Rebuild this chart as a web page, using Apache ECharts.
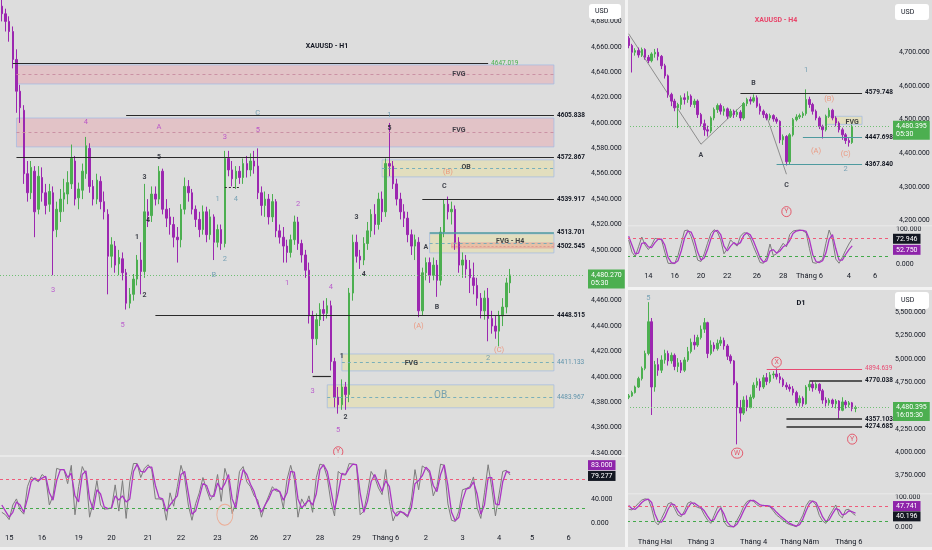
<!DOCTYPE html>
<html>
<head>
<meta charset="utf-8">
<script src="https://cdn.jsdelivr.net/npm/echarts@6.0.0/dist/echarts.min.js"></script>
<style>
html,body{margin:0;padding:0;background:#dddddd;overflow:hidden}
#chart{width:932px;height:550px}
</style>
</head>
<body>
<div id="chart"></div>
<script>
// ================= H1 DATA =================
// [open, close, low, high]
const h1Candles = [
[4692,4686,4680,4697],[4686,4680,4672,4690],[4680,4672,4664,4684],[4672,4650,4643,4676],[4650,4625,4608,4658],
[4625,4612,4600,4630],[4610,4560,4552,4614],[4560,4545,4538,4570],[4545,4565,4540,4570],[4562,4530,4510,4566],
[4532,4558,4528,4566],[4557,4545,4538,4565],[4545,4535,4528,4552],[4536,4546,4530,4552],[4545,4515,4480,4550],
[4516,4532,4510,4538],[4530,4540,4522,4548],[4540,4545,4530,4556],[4544,4553,4536,4562],[4552,4572,4548,4583],
[4570,4540,4535,4574],[4541,4548,4532,4553],[4547,4562,4540,4568],[4560,4582,4556,4589],[4580,4550,4545,4584],
[4550,4540,4535,4555],[4540,4555,4536,4560],[4554,4538,4532,4558],[4538,4530,4524,4546],[4528,4495,4465,4532],
[4495,4504,4486,4510],[4503,4488,4482,4507],[4489,4494,4480,4500],[4493,4482,4476,4498],[4482,4458,4453,4485],
[4458,4465,4454,4470],[4465,4477,4460,4481],[4477,4492,4472,4496],[4492,4483,4465,4506],[4483,4530,4478,4552],
[4530,4527,4518,4540],[4527,4544,4522,4550],[4544,4540,4535,4550],[4540,4562,4536,4566],[4562,4532,4528,4564],
[4532,4525,4518,4540],[4526,4520,4512,4533],[4520,4510,4502,4526],[4510,4508,4490,4518],[4508,4532,4502,4536],
[4532,4550,4528,4557],[4550,4545,4538,4555],[4545,4532,4528,4548],[4532,4524,4518,4535],[4524,4516,4510,4530],
[4516,4530,4512,4535],[4530,4512,4506,4534],[4512,4526,4508,4532],[4526,4506,4492,4528],[4506,4516,4502,4520],
[4516,4505,4500,4520],[4505,4572,4502,4578],[4572,4563,4558,4578],[4563,4556,4550,4570],[4556,4562,4548,4566],
[4562,4557,4552,4566],[4557,4568,4552,4572],[4568,4563,4557,4574],[4563,4570,4558,4576],[4570,4566,4560,4578],
[4566,4545,4540,4580],[4545,4535,4527,4550],[4535,4540,4526,4546],[4540,4526,4520,4544],[4526,4538,4522,4544],
[4538,4515,4510,4540],[4515,4510,4505,4520],[4510,4503,4490,4518],[4503,4498,4490,4508],[4498,4508,4494,4512],
[4508,4522,4504,4527],[4522,4505,4500,4526],[4505,4496,4490,4508],[4496,4484,4478,4500],[4484,4448,4442,4490],
[4448,4430,4403,4452],[4430,4445,4425,4450],[4445,4453,4440,4458],[4453,4450,4444,4460],[4450,4456,4446,4462],
[4456,4412,4405,4460],[4412,4384,4376,4415],[4384,4378,4371,4392],[4378,4392,4374,4398],[4392,4386,4374,4396],
[4386,4466,4380,4470],[4466,4506,4460,4512],[4506,4495,4490,4512],[4495,4492,4485,4500],[4492,4505,4488,4510],
[4505,4515,4500,4522],[4515,4528,4510,4532],[4528,4520,4512,4536],[4520,4540,4516,4545],[4540,4530,4522,4546],
[4530,4568,4526,4572],[4568,4566,4558,4600],[4566,4552,4548,4570],[4552,4540,4535,4556],[4540,4530,4524,4545],
[4530,4525,4518,4536],[4525,4512,4506,4530],[4512,4503,4496,4516],[4503,4508,4492,4512],[4506,4452,4447,4510],
[4452,4482,4448,4486],[4482,4490,4476,4494],[4490,4480,4474,4494],[4480,4488,4476,4494],[4488,4476,4463,4492],
[4476,4514,4472,4518],[4514,4536,4510,4540],[4536,4530,4524,4542],[4530,4532,4520,4538],[4532,4506,4500,4535],
[4506,4488,4482,4510],[4488,4492,4478,4498],[4492,4485,4478,4496],[4485,4478,4466,4492],[4478,4472,4465,4490],
[4472,4462,4456,4478],[4462,4452,4446,4466],[4452,4462,4445,4468],[4462,4446,4428,4470],[4446,4440,4434,4452],
[4440,4436,4430,4448],[4436,4448,4424,4452],[4448,4455,4440,4462],[4455,4474,4450,4478],[4474,4480.27,4466,4485]
];
const h1OscK = [18,14,6,30,40,22,15,60,76,72, 68,80,75,30,45,90,88,88,65,95, 14,60,93,80,10,35,70,30,23,24,
25,63,20,70,8,68,98,98,75,90, 96,88,40,40,38,5,50,28,60,95, 75,30,5,32,50,75,55,38,48,80,
36,90,70,16,35,85,93,68,60,45, 38,10,30,45,60,53,52,25,72,95, 72,10,40,28,45,18,75,97,95,75,
35,12,85,80,79,98,97,96,14,20, 50,85,75,58,47,88,36,4,18,20, 15,10,38,88,55,94,90,82,45,60,
97,95,32,5,3,20,55,57,60,76, 25,8,50,96,58,12,48,85,87,79.277];
const h1OscD = [30,20,10,18,35,30,18,40,68,74, 70,74,77,50,38,70,88,88,75,82, 45,35,80,86,40,22,55,48,27,24,
25,45,38,45,35,40,85,97,85,84, 92,92,62,42,40,20,30,38,45,80, 85,50,15,20,42,65,62,45,44,66,
55,65,80,40,25,62,88,80,64,52, 32,18,30,40,54,56,52,38,50,85, 84,40,25,32,38,30,48,88,96,85,
55,22,50,82,80,90,97,96,50,18, 36,68,80,66,52,70,60,20,12,19, 17,12,25,65,70,78,92,86,62,52,
80,96,62,18,4,10,38,56,58,68, 48,15,30,75,75,32,30,68,85,83];
const h1TickIdx = [2,11,21,30,40,49,59,69,78,87,97,105,116,126,136,145,155];
const h1TickText = ['15','16','19','20','21','22','23','26','27','28','29','Tháng 6','2','3','4','5','6'];
const h1OscLevels = [73,24];
// [fromIndex, toIndex, price]
const h1LevelsBlack = [[34,151,4605.838],[4,151,4572.867],[115,151,4539.917],[42,151,4448.515]];
const h1LevelGreen = [[3,133,4647.019]];
const h1LevelTeal = [[117,151,4513.701]];
// [fromIndex, toIndex, lowPrice, highPrice]
const h1PinkZones = [[4,151,4630.7,4645.7],[4,151,4581.1,4603.9]];
const h1YellowZones = [[104,151,4557.5,4570.9],[117,151,4497.6,4512.6],[93,151,4404.7,4418.0],[89,151,4375.6,4393.7]];
const h1SubZones = [[123,151,4501.5,4505.5]];
const h1MidPink = [[4,151,4638.2],[4,151,4592.5]];
const h1MidYellow = [[104,151,4564.2],[117,151,4505.1]];
const h1MidTealLabeled = [[93,151,4411.133,'4411.133'],[89,151,4383.967,'4483.967']];
const h1MidSubLabeled = [[123,151,4502.545,'4502.545']];
const h1ShortSolid = [[85,90,4400.8]];
const h1ShortDashed = [[61,65,4549.0]];
// [index, price, text]
const h1TxtBlack = [[43,4573,'5'],[39,4557,'3'],[40,4523,'4'],[37,4510,'1'],[39,4464,'2'],[106,4596,'5'],
  [97,4526,'3'],[99,4481,'4'],[121,4550,'C'],[116,4502,'A'],[119,4455,'B'],[93,4416,'1'],[94,4368,'2'],
  [125,4638,'FVG'],[125,4594,'FVG'],[127,4565,'OB'],[139,4507,'FVG - H4'],[112,4411,'FVG']];
const h1TxtPink = [[23,4601,'4'],[43,4597,'A'],[61,4589,'3'],[70,4594,'5'],[14,4468,'3'],[33,4441,'5'],
  [81,4536,'2'],[78,4474,'1'],[90,4471,'4'],[85,4389,'3'],[92,4358,'5']];
const h1TxtTeal = [[70,4608,'C'],[106,4606,'1'],[59,4540,'1'],[64,4540,'4'],[61,4493,'2'],[58,4480,'B'],[133,4415,'2']];
const h1TxtTealBig = [[120,4385,'OB']];
const h1TxtOrange = [[122,4561,'(B)'],[114,4440,'(A)'],[136,4421,'(C)']];
const h1TxtCircle = [[92,4341,'Y']];
const h1OscMark = [[61,14]];

// ================= H4 DATA =================
const h4Candles = [
[4742,4720,4712,4748],[4720,4700,4640,4725],[4700,4705,4690,4712],[4705,4692,4684,4714],[4692,4708,4686,4714],
[4708,4685,4678,4712],[4685,4675,4668,4692],[4675,4695,4670,4700],[4695,4700,4684,4710],[4700,4688,4676,4712],
[4688,4660,4650,4692],[4660,4630,4622,4666],[4630,4575,4565,4634],[4575,4555,4540,4580],[4555,4535,4525,4562],
[4535,4545,4475,4550],[4545,4565,4530,4572],[4565,4560,4545,4578],[4560,4570,4550,4584],[4570,4545,4538,4575],
[4545,4555,4535,4562],[4555,4515,4505,4560],[4515,4488,4480,4520],[4488,4470,4452,4500],[4470,4466,4450,4482],
[4466,4505,4460,4510],[4505,4530,4498,4536],[4530,4542,4520,4548],[4542,4525,4515,4548],[4525,4532,4512,4540],
[4532,4510,4502,4536],[4510,4525,4505,4532],[4525,4515,4505,4530],[4515,4522,4508,4530],[4522,4505,4496,4528],
[4505,4548,4500,4552],[4548,4560,4540,4565],[4560,4555,4545,4568],[4555,4565,4550,4575],[4565,4540,4535,4572],
[4540,4525,4515,4548],[4525,4515,4505,4530],[4515,4505,4498,4520],[4505,4512,4498,4518],[4512,4502,4494,4516],
[4502,4495,4488,4508],[4495,4440,4430,4498],[4440,4450,4425,4456],[4450,4375,4364,4454],[4375,4455,4368,4460],
[4455,4500,4450,4505],[4500,4508,4495,4516],[4508,4512,4502,4518],[4512,4518,4505,4524],[4518,4560,4512,4590],
[4560,4545,4535,4568],[4545,4525,4515,4550],[4525,4505,4498,4530],[4505,4480,4472,4510],[4480,4470,4444,4485],
[4470,4510,4465,4515],[4510,4528,4505,4535],[4528,4505,4498,4532],[4505,4490,4480,4510],[4490,4470,4462,4495],
[4470,4455,4440,4476],[4455,4438,4428,4460],[4438,4432,4420,4445],[4432,4480.395,4428,4485]
];
const h4OscK = [70,35,22,50,78,55,42,55,74,72, 70,35,3,2,2,25,60,96,98,80, 50,12,8,30,60,88,99,92,70,30,
45,70,60,52,80,90,89,75,50,28, 5,3,20,58,25,30,45,60,50,85, 95,97,98,96,90,45,5,3,8,14,
60,98,72,15,3,20,40,58,72.946];
const h4OscD = [80,55,30,32,60,62,50,48,62,72, 72,55,20,5,3,10,38,75,95,92, 70,35,12,18,42,72,94,97,85,52,
38,52,62,56,62,82,90,84,66,42, 18,6,10,38,42,32,38,50,55,68, 88,95,97,97,94,70,28,8,5,10,
32,72,85,45,12,12,28,42,52.75];
const h4TickIdx = [6,14,22,30,39,47,55,67,75];
const h4TickText = ['14','16','20','22','26','28','Tháng 6','4','6'];
const h4OscLevels = [74,24];
const h4LevelsBlack = [[34,71,4579.748]];
const h4LevelsTeal = [[53,71,4447.698],[45,71,4367.840]];
const h4YellowZones = [[60,71,4486,4510]];
const h4Zigzag1 = [[0,4755],[22,4427],[35,4548]];
const h4Zigzag2 = [[42,4510],[48,4338]];
const h4TxtBlack = [[22,4394,'A'],[38,4608,'B'],[48,4305,'C'],[68,4492,'FVG']];
const h4TxtTeal = [[54,4646,'1'],[66,4352,'2']];
const h4TxtOrange = [[61,4560,'(B)'],[57,4406,'(A)'],[66,4397,'(C)']];
const h4TxtCircle = [[48,4227,'Y']];

// ================= D1 DATA =================
const d1Candles = [
[4590,4605,4570,4625],[4605,4640,4595,4660],[4640,4700,4630,4715],[4700,4790,4690,4810],[4790,4900,4770,4920],
[4900,5060,4880,5090],[5060,5400,5040,5610],[5400,4700,4400,5440],[4700,4940,4650,4980],[4940,4880,4820,5010],
[4880,4990,4850,5040],[4990,5060,4950,5100],[5060,4980,4930,5090],[4980,5040,4950,5070],[5040,4920,4880,5060],
[4920,4960,4860,5010],[4960,4880,4850,4990],[4880,4990,4860,5020],[4990,5080,4970,5130],[5080,5180,5060,5220],
[5180,5150,5100,5260],[5150,5230,5130,5260],[5230,5320,5210,5360],[5320,5390,5280,5440],[5390,5060,5010,5400],
[5060,5150,5040,5200],[5150,5110,5080,5180],[5110,5170,5090,5210],[5170,5200,5140,5240],[5200,5140,5100,5230],
[5140,5030,4990,5160],[5030,4980,4950,5050],[4980,4740,4720,4990],[4740,4480,4085,4760],[4480,4420,4330,4560],
[4420,4560,4400,4600],[4560,4480,4440,4610],[4480,4590,4470,4620],[4590,4720,4570,4750],[4720,4760,4690,4800],
[4760,4700,4660,4790],[4700,4800,4680,4830],[4800,4760,4720,4850],[4760,4830,4740,4860],[4830,4840,4790,4870],
[4840,4810,4780,4900],[4810,4780,4740,4850],[4780,4720,4700,4800],[4720,4700,4670,4750],[4700,4680,4650,4730],
[4680,4640,4610,4710],[4640,4530,4500,4660],[4530,4580,4490,4610],[4580,4520,4490,4600],[4520,4700,4510,4720],
[4700,4730,4660,4760],[4730,4690,4650,4760],[4690,4730,4670,4750],[4730,4660,4630,4740],[4660,4560,4520,4680],
[4560,4530,4490,4590],[4530,4560,4500,4580],[4560,4520,4480,4575],[4520,4550,4470,4570],[4550,4450,4360,4560],
[4450,4540,4440,4590],[4540,4510,4470,4560],[4510,4530,4480,4550],[4530,4470,4440,4540],[4470,4480.395,4430,4500]
];
const d1OscK = [60,58,68,80,90,94,92,63,20,9, 30,52,78,82,62,41,36,55,80,85, 72,66,63,42,25,14,40,66,70,20,
5,3,3,25,45,70,85,90,86,75, 68,73,71,68,55,41,33,24,15,10, 7,3,20,41,72,88,86,74,40,22,
14,38,56,74,42,32,58,60,48,40.196];
const d1OscD = [72,62,60,70,82,90,93,82,45,20, 18,35,60,78,74,55,42,45,65,80, 80,72,66,55,38,22,26,48,64,45,
18,6,3,12,32,55,76,88,89,82, 74,72,72,70,62,50,40,31,22,14, 9,5,10,28,55,78,87,82,60,35,
20,26,45,62,58,42,45,55,52,47.741];
const d1TickIdx = [8,22,38,52,67];
const d1TickText = ['Tháng Hai','Tháng 3','Tháng 4','Tháng Năm','Tháng 6'];
const d1OscLevels = [70,22];
const d1LevelPink = [[42,71,4894.639]];
const d1LevelsBlack = [[55,71,4770.038],[48,71,4357.103],[48,71,4274.685]];
const d1TxtTeal = [[6,5652,'5']];
const d1TxtCircle = [[33,3991,'W'],[45,4966,'X'],[68,4141,'Y']];

const priceTimers = ['05:30','05:30','16:05:30'];

// ================= BUILD =================
const FONT = 'Roboto';
const TXT = '#131722';
const UP = '#4caf50', DOWN = '#9c27b0';
const TEAL = '#5f93ab', PINK = '#b03cc8', ORANGE = '#ef8a6c', CIRC = '#e53950';
const CLEAR = 'rgba(0,0,0,0)';

function fmt(v){ return Number(v).toLocaleString('en-US',{minimumFractionDigits:3,maximumFractionDigits:3}); }

function catAxis(grid, n, ticks, texts, show, margin){
  const map = {}; ticks.forEach((t,k)=>{ map[String(t)] = texts[k]; });
  const cats = []; for (let i=0;i<n;i++) cats.push(String(i));
  return {type:'category', gridIndex:grid, data:cats, boundaryGap:true,
    axisLine:{show:false}, axisTick:{show:false}, splitLine:{show:false}, axisPointer:{show:false},
    axisLabel:{show:show, interval:0, margin:margin||8, formatter:(v)=>map[v]||'', color:TXT, fontSize:7.5, fontFamily:FONT}};
}
function valAxis(grid, min, max, interval, showFn, margin){
  return {type:'value', gridIndex:grid, position:'right', min:min, max:max, interval:interval, scale:false,
    axisLine:{show:false}, axisTick:{show:false}, splitLine:{show:false},
    axisLabel:{show:true, margin:margin, formatter:(v)=>showFn(v)?fmt(v):'', color:TXT, fontSize:7, fontFamily:FONT}};
}
function segs(arr, lineStyle, label){
  return arr.map(r=>[{coord:[r[0], r[2]], name:(r[3]!==undefined? r[3] : r[2].toFixed(3)), lineStyle:lineStyle, label:label},{coord:[r[1], r[2]]}]);
}
function zones(arr, itemStyle){
  return arr.map(r=>[{coord:[r[0], r[2]], itemStyle:itemStyle},{coord:[r[1], r[3]]}]);
}
function lastLine(price, timer){
  return {yAxis:price, name:'', lineStyle:{type:[1,2], color:'#6fbf73', width:1},
    label:{show:true, position:'end', distance:3, formatter:fmt(price)+'\n'+timer, backgroundColor:'#4caf50',
      color:'#ffffff', padding:[2,3,1,3], lineHeight:8, fontSize:7, fontWeight:'normal', fontFamily:FONT, offset:[0,4]}};
}
function tag(v, bg, dy){
  return {yAxis:v, name:'', lineStyle:{color:CLEAR, width:1, type:'solid'}, label:{show:true, position:'end', distance:3, formatter:fmt(v),
    backgroundColor:bg, color:'#ffffff', padding:[2,3,1,3], fontSize:7, fontWeight:'normal', fontFamily:FONT, offset:[0,dy]}};
}
function oscRef(levels){
  return [{yAxis:levels[0], name:'', lineStyle:{type:[3,3], color:'#ef5b7a', width:1}},
          {yAxis:levels[1], name:'', lineStyle:{type:[3,3], color:'#43a94a', width:1}}];
}
function texts(data, ax, color, size, weight, extra){
  return {type:'scatter', xAxisIndex:ax, yAxisIndex:ax, data:data, symbolSize:1, silent:true, clip:false, z:6,
    itemStyle:{color:CLEAR}, animation:false,
    label:Object.assign({show:true, position:'inside', formatter:(p)=>p.data[2], color:color, fontSize:size,
      fontWeight:weight||'normal', fontFamily:FONT}, extra||{})};
}
const circleStyle = {borderColor:CIRC, borderWidth:1, borderRadius:8, padding:[2,2.5,1,2.5]};
const baseLabel = {show:false, position:'end', distance:3, formatter:'{b}', fontFamily:FONT, fontSize:6.5, fontWeight:'bold', color:TXT};
const blackLbl = {show:true, color:TXT, fontWeight:'bold'};
const pinkZoneStyle = {color:'rgba(240,135,150,0.30)', borderColor:'rgba(160,185,230,0.7)', borderWidth:1};
const yellowZoneStyle = {color:'rgba(240,225,120,0.30)', borderColor:'rgba(160,185,230,0.7)', borderWidth:1};
const subZoneStyle = {color:'rgba(240,140,120,0.35)', borderColor:'rgba(230,150,150,0.6)', borderWidth:1};

function candleSeries(ax, data, mlData, maData, bw){
  return {type:'candlestick', xAxisIndex:ax, yAxisIndex:ax, data:data, barWidth:bw, z:3,
    itemStyle:{color:UP, color0:DOWN, borderColor:UP, borderColor0:DOWN, borderWidth:1},
    markLine:{symbol:['none','none'], silent:true, animation:false, label:baseLabel, data:mlData},
    markArea:{silent:true, animation:false, label:{show:false}, data:maData}};
}
function oscSeries(ax, k, d, levels, kDy, dDy){
  return [
    {type:'line', xAxisIndex:ax, yAxisIndex:ax, data:k, symbol:'none', z:3, lineStyle:{color:'#7c7c7c', width:1},
      markLine:{symbol:['none','none'], silent:true, animation:false, label:{show:false},
        data:oscRef(levels).concat([tag(k[k.length-1], '#131722', kDy)])}},
    {type:'line', xAxisIndex:ax, yAxisIndex:ax, data:d, symbol:'none', z:4, lineStyle:{color:'#ab35c4', width:1.3},
      markLine:{symbol:['none','none'], silent:true, animation:false, label:{show:false},
        data:[tag(d[d.length-1], '#8e24aa', dDy)]}}
  ];
}

const h1Last = h1Candles[h1Candles.length-1][1];
const h4Last = h4Candles[h4Candles.length-1][1];
const d1Last = d1Candles[d1Candles.length-1][1];

const h1ML = [].concat(
  segs(h1LevelsBlack, {color:'#2a2a2a', width:1.2, type:'solid'}, blackLbl),
  segs(h1LevelGreen, {color:'#2a2a2a', width:1.2, type:'solid'}, {show:true, color:'#4caf50', fontWeight:'normal'}),
  segs(h1LevelTeal, {color:'#4e9a9f', width:1.6, type:'solid'}, blackLbl),
  segs(h1MidPink, {color:'rgba(200,140,160,0.9)', width:1, type:[3,3]}, {show:false}),
  segs(h1MidYellow, {color:'rgba(110,170,185,0.9)', width:1, type:[3,3]}, {show:false}),
  segs(h1MidTealLabeled, {color:'rgba(110,170,185,0.9)', width:1, type:[3,3]}, {show:true, color:TEAL, fontWeight:'normal'}),
  segs(h1MidSubLabeled, {color:'rgba(220,140,140,0.7)', width:1, type:[2,2]}, blackLbl),
  segs(h1ShortSolid, {color:'#2a2a2a', width:1.2, type:'solid'}, {show:false}),
  segs(h1ShortDashed, {color:'#2a2a2a', width:1, type:[2,2]}, {show:false}),
  [lastLine(h1Last, priceTimers[0])]
);
const h1MA = [].concat(zones(h1PinkZones, pinkZoneStyle), zones(h1YellowZones, yellowZoneStyle), zones(h1SubZones, subZoneStyle));

const h4ML = [].concat(
  segs(h4LevelsBlack, {color:'#2a2a2a', width:1.2, type:'solid'}, blackLbl),
  segs(h4LevelsTeal, {color:'#4e9a9f', width:1.2, type:'solid'}, blackLbl),
  [lastLine(h4Last, priceTimers[1])]
);
const h4MA = zones(h4YellowZones, yellowZoneStyle);

const d1ML = [].concat(
  segs(d1LevelPink, {color:'#e84a72', width:1.2, type:'solid'}, {show:true, color:'#e84a72', fontWeight:'normal'}),
  segs(d1LevelsBlack, {color:'#2a2a2a', width:1.5, type:'solid'}, blackLbl),
  [lastLine(d1Last, priceTimers[2])]
);

const series = [].concat(
  [candleSeries(0, h1Candles, h1ML, h1MA, 2)],
  oscSeries(1, h1OscK, h1OscD, h1OscLevels, 1, -7.5),
  [texts(h1TxtBlack, 0, TXT, 7, 'bold'),
   texts(h1TxtPink, 0, PINK, 7.5),
   texts(h1TxtTeal, 0, TEAL, 7.5),
   texts(h1TxtTealBig, 0, TEAL, 10),
   texts(h1TxtOrange, 0, ORANGE, 7.5),
   texts(h1TxtCircle, 0, CIRC, 7, 'normal', circleStyle),
   {type:'scatter', xAxisIndex:1, yAxisIndex:1, data:h1OscMark, symbol:'circle', symbolSize:[16,21], silent:true, z:6,
    itemStyle:{color:CLEAR, borderColor:'#f0a083', borderWidth:1}}],
  [candleSeries(2, h4Candles, h4ML, h4MA, 2)],
  [{type:'line', xAxisIndex:2, yAxisIndex:2, data:h4Zigzag1, symbol:'none', z:2, lineStyle:{color:'#8d8d8d', width:1}},
   {type:'line', xAxisIndex:2, yAxisIndex:2, data:h4Zigzag2, symbol:'none', z:2, lineStyle:{color:'#8d8d8d', width:1}}],
  oscSeries(3, h4OscK, h4OscD, h4OscLevels, 0, 4),
  [texts(h4TxtBlack, 2, TXT, 7, 'bold'),
   texts(h4TxtTeal, 2, TEAL, 7.5),
   texts(h4TxtOrange, 2, ORANGE, 7.5),
   texts(h4TxtCircle, 2, CIRC, 7, 'normal', circleStyle)],
  [candleSeries(4, d1Candles, d1ML, [], 2)],
  oscSeries(5, d1OscK, d1OscD, d1OscLevels, 1, -7),
  [texts(d1TxtTeal, 4, TEAL, 7.5),
   texts(d1TxtCircle, 4, CIRC, 7, 'normal', circleStyle)]
);

const option = {
  backgroundColor:'#dddddd',
  animation:false,
  textStyle:{fontFamily:FONT},
  grid:[
    {left:0, top:-4, width:585, height:457, outerBoundsMode:'none', containLabel:false},
    {left:0, top:462.3, width:585, height:61, outerBoundsMode:'none', containLabel:false},
    {left:627, top:18.6, width:263, height:202.1, outerBoundsMode:'none', containLabel:false},
    {left:627, top:229.3, width:263, height:35, outerBoundsMode:'none', containLabel:false},
    {left:627, top:289.1, width:263, height:186.5, outerBoundsMode:'none', containLabel:false},
    {left:627, top:497, width:263, height:30.7, outerBoundsMode:'none', containLabel:false}
  ],
  xAxis:[
    catAxis(0,160,h1TickIdx,h1TickText,false),
    catAxis(1,160,h1TickIdx,h1TickText,true,11),
    catAxis(2,80,h4TickIdx,h4TickText,false),
    catAxis(3,80,h4TickIdx,h4TickText,true,8),
    catAxis(4,80,d1TickIdx,d1TickText,false),
    catAxis(5,80,d1TickIdx,d1TickText,true,10)
  ],
  yAxis:[
    valAxis(0,4340,4700,20,(v)=>v<4700,6),
    valAxis(1,0,100,20,(v)=>v===0||v===40,6),
    valAxis(2,4200,4800,100,(v)=>v<4800,9),
    valAxis(3,0,100,50,(v)=>v===0||v===100,6),
    valAxis(4,3750,5750,250,(v)=>v<5750,5),
    valAxis(5,0,100,50,(v)=>v===0||v===100,5)
  ],
  series:series,
  graphic:[
    {type:'rect', shape:{x:625, y:0, width:3, height:550}, style:{fill:'#f3f3f3'}, z:50, silent:true},
    {type:'rect', shape:{x:628, y:287, width:304, height:3}, style:{fill:'#f3f3f3'}, z:50, silent:true},
    {type:'rect', shape:{x:0, y:455, width:625, height:2}, style:{fill:'#e9e9e9'}, z:50, silent:true},
    {type:'rect', shape:{x:628, y:225, width:304, height:1.5}, style:{fill:'#e6e6e6'}, z:50, silent:true},
    {type:'rect', shape:{x:628, y:493, width:304, height:1.5}, style:{fill:'#e6e6e6'}, z:50, silent:true},
    {type:'rect', shape:{x:0, y:547, width:932, height:3}, style:{fill:'#f0f0f0'}, z:50, silent:true},
    {type:'rect', shape:{x:589, y:4, width:32, height:15, r:3}, style:{fill:'#ffffff'}, z:60, silent:true},
    {type:'text', x:595, y:11.5, style:{text:'USD', fill:TXT, font:'7px Roboto', textVerticalAlign:'middle'}, z:61, silent:true},
    {type:'rect', shape:{x:895, y:4, width:34, height:16, r:3}, style:{fill:'#ffffff'}, z:60, silent:true},
    {type:'text', x:901, y:12, style:{text:'USD', fill:TXT, font:'7px Roboto', textVerticalAlign:'middle'}, z:61, silent:true},
    {type:'rect', shape:{x:895, y:292, width:34, height:17, r:3}, style:{fill:'#ffffff'}, z:60, silent:true},
    {type:'text', x:901, y:300.5, style:{text:'USD', fill:TXT, font:'7px Roboto', textVerticalAlign:'middle'}, z:61, silent:true},
    {type:'text', x:327, y:46, style:{text:'XAUUSD - H1', fill:TXT, font:'bold 7px Roboto', textAlign:'center', textVerticalAlign:'middle'}, z:61, silent:true},
    {type:'text', x:776, y:20, style:{text:'XAUUSD - H4', fill:'#e8456a', font:'bold 7px Roboto', textAlign:'center', textVerticalAlign:'middle'}, z:61, silent:true},
    {type:'text', x:801, y:303, style:{text:'D1', fill:TXT, font:'bold 7.5px Roboto', textAlign:'center', textVerticalAlign:'middle'}, z:61, silent:true}
  ]
};

const chart = echarts.init(document.getElementById('chart'), null, {renderer:'canvas'});
chart.setOption(option);
</script>
</body>
</html>
